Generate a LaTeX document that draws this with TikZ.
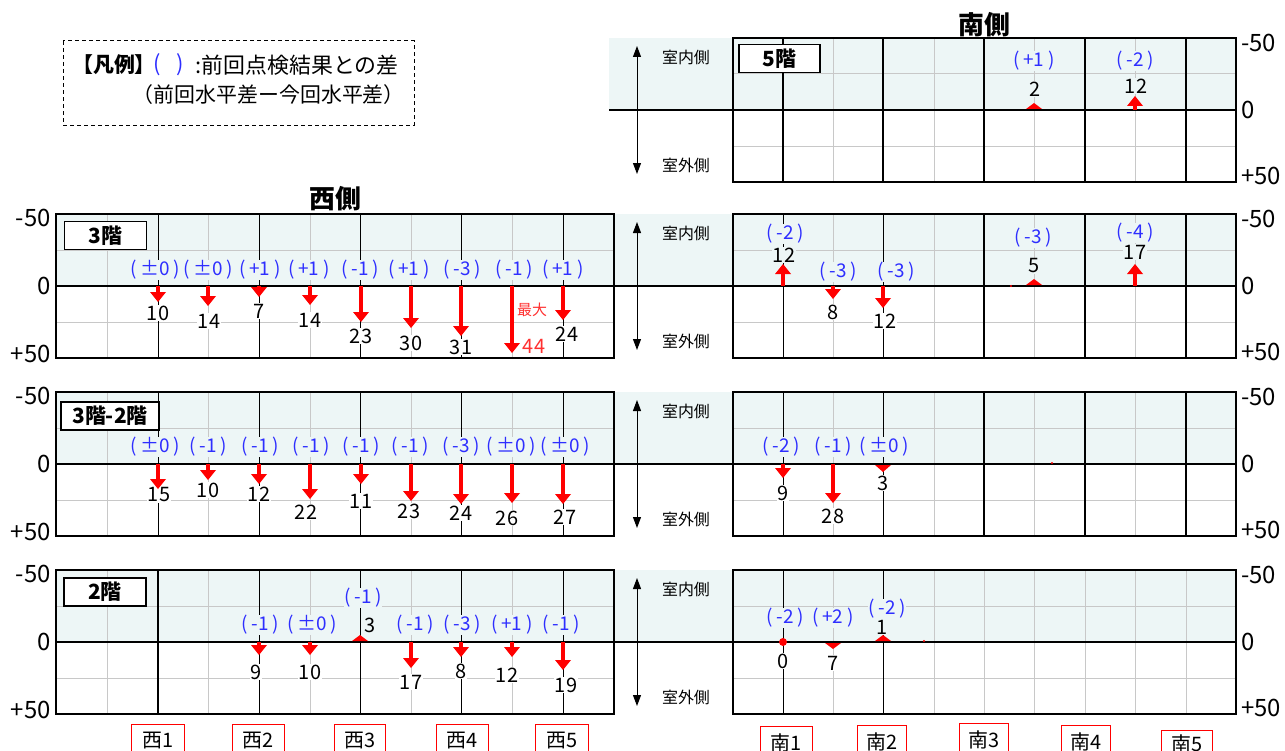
\documentclass[tikz,border=0pt]{standalone}
\usepackage{fontspec}
\setmainfont{Noto Sans CJK JP}
\usetikzlibrary{arrows.meta}
\definecolor{shadebg}{HTML}{EDF6F6}
\definecolor{lgrid}{HTML}{C8C8C8}
\definecolor{dblue}{HTML}{2E2EFF}
\definecolor{ared}{HTML}{FF0000}
\definecolor{tred}{HTML}{FF3030}
\newcommand{\dd}[1]{(\hspace{0.2em}#1\hspace{0.2em})}
\newcommand{\arrdn}[3]{%
  \fill[ared] ({#1-1.6},#2) rectangle ({#1+1.6},{#2+#3-9});
  \fill[ared] ({#1-8},{#2+#3-10}) -- ({#1+8},{#2+#3-10}) -- (#1,{#2+#3}) -- cycle;}
\newcommand{\arrup}[3]{%
  \fill[ared] ({#1-1.6},#2) rectangle ({#1+1.6},{#2-#3+9});
  \fill[ared] ({#1-8},{#2-#3+10}) -- ({#1+8},{#2-#3+10}) -- (#1,{#2-#3}) -- cycle;}
\newcommand{\tridn}[3]{\fill[ared] ({#1-8},{#2+1}) -- ({#1+8},{#2+1}) -- (#1,{#2+#3}) -- cycle;}
\newcommand{\triup}[3]{\fill[ared] ({#1-8},{#2-1}) -- ({#1+8},{#2-1}) -- (#1,{#2-#3}) -- cycle;}
\newcommand{\rightgrid}[3]{%
  \foreach \x in {833,934,1034,1135} {\draw[lg] (\x,#1) -- (\x,#3);}
  \draw[lg] (733,{#2-36}) -- (1236,{#2-36});
  \draw[lg] (733,{#2+36}) -- (1236,{#2+36});}
\newcommand{\leftgrid}[3]{%
  \foreach \x in {107,208,310,411,512} {\draw[lg] (\x,#1) -- (\x,#3);}
  \draw[lg] (56,{#2-36}) -- (614,{#2-36});
  \draw[lg] (56,{#2+36}) -- (614,{#2+36});}
\newcommand{\sidemarks}[4]{% top, zero, bottom, name
  \coordinate (#4a) at (637,{#1+8});
  \coordinate (#4b) at (637,{#3-8});
  \draw[dbl] (#4a) -- (#4b);
  \node[side] (#4in) at (686,{#1+19}) {室内側};
  \node[side] (#4out) at (686,{#3-17}) {室外側};
  \node[axl,anchor=west] (#4r1) at (1241,{#1+5}) {-50};
  \node[axl,anchor=west] (#4r2) at (1241,#2) {0};
  \node[axl,anchor=west] (#4r3) at (1241,{#3-6}) {+50};}
\newcommand{\leftaxis}[4]{%
  \node[axl,anchor=east] (#4l1) at (51,{#1+4}) {-50};
  \node[axl,anchor=east] (#4l2) at (51,#2) {0};
  \node[axl,anchor=east] (#4l3) at (51,{#3-4}) {+50};}
\begin{document}
\begin{tikzpicture}[x=1bp,y=-1bp,
  lg/.style={draw=lgrid,line width=1bp},
  dk/.style={line width=0.9bp},
  dkk/.style={line width=1.8bp},
  frm/.style={line width=2.4bp},
  zl/.style={line width=2.2bp},
  dbl/.style={line width=1bp,{Triangle[width=8bp,length=11bp]}-{Triangle[width=8bp,length=11bp]}},
  val/.style={font=\fontsize{20}{22}\selectfont,inner sep=0.8bp,fill=white},
  valsh/.style={val,fill=shadebg},
  dif/.style={font=\fontsize{19}{20}\selectfont,text=dblue,inner sep=0.3bp,fill=shadebg},
  axl/.style={font=\fontsize{24}{26}\selectfont,inner sep=0bp},
  side/.style={font=\fontsize{16}{17}\selectfont,inner sep=0bp},
  floorbox/.style={draw,line width=1.2bp,fill=white,font=\bfseries\fontsize{21}{22}\selectfont,inner sep=0bp,minimum height=28bp},
  tagbox/.style={draw=red,line width=1bp,fill=white,font=\fontsize{20}{22}\selectfont,inner sep=0bp,anchor=north,minimum height=32bp},
  ttl/.style={font=\bfseries\fontsize{26}{28}\selectfont,inner sep=0bp}]
\useasboundingbox (0,0) rectangle (1285,751);
\fill[white] (0,0) rectangle (1285,751);

% ---------------- legend
\draw[line width=1bp,dash pattern=on 4bp off 3bp] (63,41) rectangle (414,125);
\node[anchor=west,font=\bfseries\fontsize{21}{22}\selectfont,inner sep=0bp] (lg1) at (72,65) {【凡例】};
\node[text=dblue,font=\fontsize{22}{24}\selectfont,inner sep=0bp] (lg2) at (169,65) {(\hspace{0.7em})};
\node[anchor=east,font=\fontsize{22}{24}\selectfont,inner sep=0bp] (lg3) at (399,65) {:前回点検結果との差};
\node[anchor=east,font=\fontsize{21}{23}\selectfont,inner sep=0bp] (lg4) at (405,95) {（前回水平差ー今回水平差）};

% titles
\node[ttl] (tS) at (984,25) {南側};
\node[ttl] (tW) at (335,199) {西側};

% ================= row 5F (right only)
\fill[shadebg] (609,38) rectangle (1236,110);
\rightgrid{38}{110}{182}
\foreach \x in {783,883,984,1085,1186} {\draw[dkk] (\x,38) -- (\x,182);}
\node[dif] (d5a) at (1034,61) {\dd{+1}};
\node[dif] (d5b) at (1135,61) {\dd{-2}};
\node[valsh] (v5a) at (1035,89) {2};
\node[valsh] (v5b) at (1136,86) {12};
\draw[zl] (609,110) -- (1236,110);
\triup{1034}{110}{7}
\arrup{1135}{110}{14}
\draw[frm] (733,38) rectangle (1236,182);
\node[floorbox,minimum width=81bp] (f5) at (779.5,58.5) {5階};
\sidemarks{38}{110}{182}{s5}

% ================= row 3F
\fill[shadebg] (56,214) rectangle (1236,286);
\leftgrid{214}{286}{358}
\rightgrid{214}{286}{358}
\foreach \x in {158,259,360,461,563,783,883} {\draw[dk] (\x,214) -- (\x,358);}
\foreach \x in {984,1085,1186} {\draw[dkk] (\x,214) -- (\x,358);}
\node[dif] (d3w1) at (155,270) {\dd{±0}};
\node[dif] (d3w2) at (208,270) {\dd{±0}};
\node[dif] (d3w3) at (260,270) {\dd{+1}};
\node[dif] (d3w4) at (309,270) {\dd{+1}};
\node[dif] (d3w5) at (360,270) {\dd{-1}};
\node[dif] (d3w6) at (409,270) {\dd{+1}};
\node[dif] (d3w7) at (462,270) {\dd{-3}};
\node[dif] (d3w8) at (514,270) {\dd{-1}};
\node[dif] (d3w9) at (563,270) {\dd{+1}};
\node[val] (v3w1) at (158,313) {10};
\node[val] (v3w2) at (209,321) {14};
\node[val] (v3w3) at (259,311) {7};
\node[val] (v3w4) at (310,320) {14};
\node[val] (v3w5) at (361,336) {23};
\node[val] (v3w6) at (411,343) {30};
\node[val] (v3w7) at (461,347) {31};
\node[val] (v3w9) at (567,334) {24};
\node[val,text=tred,font=\fontsize{15}{16}\selectfont] (max) at (532,310) {最大};
\node[val,text=tred,font=\fontsize{20}{22}\selectfont] (v3w8) at (534,346) {44};
\node[dif] (d3s1) at (785,234) {\dd{-2}};
\node[valsh] (v3s1) at (784,255) {12};
\node[dif] (d3s2) at (838,272) {\dd{-3}};
\node[val] (v3s2) at (833,312) {8};
\node[dif] (d3s3) at (896,272) {\dd{-3}};
\node[val] (v3s3) at (885,321) {12};
\node[dif] (d3s4) at (1033,238) {\dd{-3}};
\node[valsh] (v3s4) at (1034,266) {5};
\node[dif] (d3s5) at (1135,233) {\dd{-4}};
\node[valsh] (v3s5) at (1135,252) {17};
\draw[zl] (56,286) -- (1236,286);
\arrdn{158}{286}{16}
\arrdn{208}{286}{20}
\arrdn{259}{286}{11}
\arrdn{310}{286}{19}
\arrdn{361}{286}{36}
\arrdn{411}{286}{42}
\arrdn{461}{286}{50}
\arrdn{512}{286}{67}
\arrdn{563}{286}{34}
\arrup{783}{286}{22}
\arrdn{833}{286}{13}
\arrdn{883}{286}{22}
\triup{1034}{286}{7}
\arrup{1135}{286}{22}
\fill[ared] (1011,286) circle (1.2);
\draw[frm] (56,214) rectangle (614,358);
\draw[frm] (733,214) rectangle (1236,358);
\node[floorbox,minimum width=82bp] (f3) at (105.5,235.5) {3階};
\sidemarks{214}{286}{358}{s3}
\leftaxis{214}{286}{358}{a3}

% ================= row 3F-2F
\fill[shadebg] (56,392) rectangle (1236,464);
\leftgrid{392}{464}{536}
\rightgrid{392}{464}{536}
\foreach \x in {158,259,360,461,563,783,883} {\draw[dk] (\x,392) -- (\x,536);}
\foreach \x in {984,1085,1186} {\draw[dkk] (\x,392) -- (\x,536);}
\node[dif] (d32w1) at (155,447) {\dd{±0}};
\node[dif] (d32w2) at (208,447) {\dd{-1}};
\node[dif] (d32w3) at (260,447) {\dd{-1}};
\node[dif] (d32w4) at (311,447) {\dd{-1}};
\node[dif] (d32w5) at (361,447) {\dd{-1}};
\node[dif] (d32w6) at (410,447) {\dd{-1}};
\node[dif] (d32w7) at (461,447) {\dd{-3}};
\node[dif] (d32w8) at (511,447) {\dd{±0}};
\node[dif] (d32w9) at (565,447) {\dd{±0}};
\node[val] (v32w1) at (159,495) {15};
\node[val] (v32w2) at (208,490) {10};
\node[val] (v32w3) at (259,494) {12};
\node[val] (v32w4) at (306,512) {22};
\node[val] (v32w5) at (361,501) {11};
\node[val] (v32w6) at (409,511) {23};
\node[val] (v32w7) at (461,513) {24};
\node[val] (v32w8) at (507,518) {26};
\node[val] (v32w9) at (565,517) {27};
\node[dif] (d32s1) at (781,447) {\dd{-2}};
\node[dif] (d32s2) at (833,447) {\dd{-1}};
\node[dif] (d32s3) at (884,447) {\dd{±0}};
\node[val] (v32s1) at (783,493) {9};
\node[val] (v32s2) at (833,516) {28};
\node[val] (v32s3) at (883,483) {3};
\draw[zl] (56,464) -- (1236,464);
\arrdn{158}{464}{25}
\arrdn{208}{464}{16}
\arrdn{259}{464}{20}
\arrdn{310}{464}{35}
\arrdn{361}{464}{20}
\arrdn{411}{464}{37}
\arrdn{461}{464}{40}
\arrdn{512}{464}{39}
\arrdn{563}{464}{40}
\arrdn{783}{464}{14}
\arrdn{833}{464}{39}
\tridn{883}{464}{8}
\fill[ared] (1052,463) circle (1.2);
\draw[frm] (56,392) rectangle (614,536);
\draw[frm] (733,392) rectangle (1236,536);
\node[floorbox,minimum width=98bp] (f32) at (110,416) {3階-2階};
\sidemarks{392}{464}{536}{s32}
\leftaxis{392}{464}{536}{a32}

% ================= row 2F
\fill[shadebg] (56,570) rectangle (1236,642);
\leftgrid{570}{642}{714}
\rightgrid{570}{642}{714}
\foreach \x in {984,1085,1186} {\draw[lg] (\x,570) -- (\x,714);}
\foreach \x in {259,360,461,563,783,883} {\draw[dk] (\x,570) -- (\x,714);}
\draw[dkk] (158,570) -- (158,714);
\node[dif] (d2w1) at (260,625) {\dd{-1}};
\node[dif] (d2w2) at (312,625) {\dd{±0}};
\node[dif] (d2w3) at (363,598) {\dd{-1}};
\node[dif] (d2w4) at (415,625) {\dd{-1}};
\node[dif] (d2w5) at (462,625) {\dd{-3}};
\node[dif] (d2w6) at (512,625) {\dd{+1}};
\node[dif] (d2w7) at (561,625) {\dd{-1}};
\node[val] (v2w1) at (256,672) {9};
\node[val] (v2w2) at (310,672) {10};
\node[val,fill=none] (v2w3) at (370,625) {3};
\node[val] (v2w4) at (411,682) {17};
\node[val] (v2w5) at (461,671) {8};
\node[val] (v2w6) at (507,675) {12};
\node[val] (v2w7) at (566,685) {19};
\node[dif] (d2s1) at (785,618) {\dd{-2}};
\node[dif] (d2s2) at (833,618) {\dd{+2}};
\node[dif] (d2s3) at (887,609) {\dd{-2}};
\node[val] (v2s1) at (783,661) {0};
\node[val] (v2s2) at (833,663) {7};
\node[valsh] (v2s3) at (882,627) {1};
\draw[zl] (56,642) -- (1236,642);
\arrdn{259}{642}{13}
\arrdn{310}{642}{13}
\triup{360}{642}{7}
\arrdn{411}{642}{26}
\arrdn{461}{642}{15}
\arrdn{512}{642}{15}
\arrdn{563}{642}{28}
\fill[ared] (783,642) circle (4);
\tridn{833}{642}{7}
\triup{883}{642}{7}
\fill[ared] (924,641) circle (1.2);
\draw[frm] (56,570) rectangle (614,714);
\draw[frm] (733,570) rectangle (1236,714);
\node[floorbox,minimum width=82bp] (f2) at (105,592) {2階};
\sidemarks{570}{642}{714}{s2}
\leftaxis{570}{642}{714}{a2}

% ================= bottom tags
\node[tagbox,minimum width=53bp] (w1) at (158,724) {西1};
\node[tagbox,minimum width=52bp] (w2) at (258,724) {西2};
\node[tagbox,minimum width=51bp] (w3) at (360,724) {西3};
\node[tagbox,minimum width=52bp] (w4) at (462,724) {西4};
\node[tagbox,minimum width=53bp] (w5) at (562,724) {西5};
\node[tagbox,minimum width=52bp] (n1) at (786,726) {南1};
\node[tagbox,minimum width=49bp] (n2) at (882,725) {南2};
\node[tagbox,minimum width=49bp] (n3) at (984,723) {南3};
\node[tagbox,minimum width=49bp] (n4) at (1086,725) {南4};
\node[tagbox,minimum width=51bp,minimum height=26bp] (n5) at (1187,730) {南5};
\end{tikzpicture}
\end{document}
